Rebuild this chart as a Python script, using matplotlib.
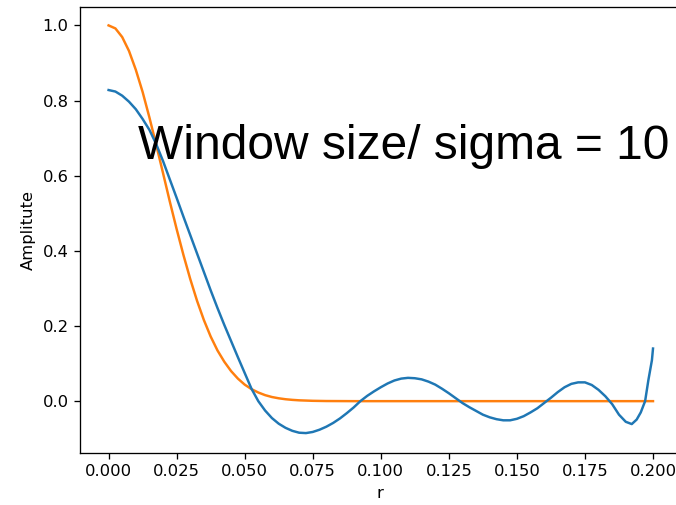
import matplotlib
matplotlib.use("Agg")
import matplotlib.pyplot as plt

# Blue curve (windowed response)
r_blue = [0.0000, 0.0025, 0.0050, 0.0075, 0.0100, 0.0125, 0.0150, 0.0175, 0.0200,
          0.0225, 0.0250, 0.0275, 0.0300, 0.0325, 0.0350, 0.0375, 0.0400, 0.0425,
          0.0450, 0.0475, 0.0500, 0.0525, 0.0550, 0.0575, 0.0600, 0.0625, 0.0650,
          0.0675, 0.0700, 0.0725, 0.0750, 0.0775, 0.0800, 0.0825, 0.0850, 0.0875,
          0.0900, 0.0925, 0.0950, 0.0975, 0.1000, 0.1025, 0.1050, 0.1075, 0.1100,
          0.1125, 0.1150, 0.1175, 0.1200, 0.1225, 0.1250, 0.1275, 0.1300, 0.1325,
          0.1350, 0.1375, 0.1400, 0.1425, 0.1450, 0.1475, 0.1500, 0.1525, 0.1550,
          0.1575, 0.1600, 0.1625, 0.1650, 0.1675, 0.1700, 0.1725, 0.1750, 0.1775,
          0.1800, 0.1825, 0.1850, 0.1875, 0.1900, 0.1922, 0.1940, 0.1955, 0.1971,
          0.1983, 0.1996, 0.2000]
a_blue = [0.828, 0.824, 0.813, 0.797, 0.777, 0.751, 0.722, 0.684, 0.639,
          0.590, 0.541, 0.491, 0.442, 0.393, 0.344, 0.295, 0.248, 0.203,
          0.160, 0.117, 0.075, 0.033, 0.000, -0.025, -0.045, -0.060, -0.071,
          -0.079, -0.084, -0.085, -0.082, -0.076, -0.068, -0.058, -0.046, -0.032,
          -0.017, 0.000, 0.014, 0.026, 0.037, 0.047, 0.055, 0.060, 0.062,
          0.061, 0.058, 0.052, 0.044, 0.033, 0.021, 0.008, -0.005, -0.016,
          -0.026, -0.036, -0.043, -0.048, -0.051, -0.051, -0.047, -0.040, -0.030,
          -0.019, -0.005, 0.009, 0.024, 0.037, 0.046, 0.050, 0.050, 0.043,
          0.030, 0.013, -0.008, -0.036, -0.055, -0.061, -0.049, -0.030, 0.000,
          0.056, 0.109, 0.140]

# Orange curve (Gaussian)
r_orange = [0.0000, 0.0025, 0.0050, 0.0075, 0.0100, 0.0125, 0.0150, 0.0175, 0.0200,
            0.0225, 0.0250, 0.0275, 0.0300, 0.0325, 0.0350, 0.0375, 0.0400, 0.0425,
            0.0450, 0.0475, 0.0500, 0.0525, 0.0550, 0.0575, 0.0600, 0.0625, 0.0650,
            0.0675, 0.0700, 0.0750, 0.0800, 0.0900, 0.1000, 0.1500, 0.2000]
a_orange = [1.000, 0.992, 0.969, 0.932, 0.882, 0.823, 0.755, 0.682, 0.607,
            0.531, 0.458, 0.389, 0.325, 0.267, 0.216, 0.172, 0.135, 0.105,
            0.080, 0.060, 0.044, 0.032, 0.023, 0.016, 0.011, 0.0076, 0.0051,
            0.0034, 0.0022, 0.0009, 0.0003, 0.0, 0.0, 0.0, 0.0]

x_ticks = [0.000, 0.025, 0.050, 0.075, 0.100, 0.125, 0.150, 0.175, 0.200]
y_ticks = [0.0, 0.2, 0.4, 0.6, 0.8, 1.0]
annotation = "Window size/ sigma = 10"

s = 1.18  # overall scale of the reference rendering
plt.rcParams.update({
    "font.size": 10 * s,
    "axes.linewidth": 0.8 * s,
    "xtick.major.size": 3.5 * s,
    "ytick.major.size": 3.5 * s,
    "xtick.major.width": 0.8 * s,
    "ytick.major.width": 0.8 * s,
    "xtick.major.pad": 3.5 * s,
    "ytick.major.pad": 3.5 * s,
    "axes.labelpad": 4.0 * s,
})

fig = plt.figure(figsize=(6.76, 5.05), dpi=100)
ax = fig.add_axes([80 / 676, 52 / 505, 600.5 / 676, 446 / 505])
ax.plot(r_blue, a_blue, color="C0", lw=1.5 * s, zorder=3)
ax.plot(r_orange, a_orange, color="C1", lw=1.5 * s, zorder=2)
ax.set_xlim(-0.0105, 0.2101)
ax.set_ylim(-0.138, 1.049)
ax.set_xticks(x_ticks)
ax.set_xticklabels([f"{v:.3f}" for v in x_ticks])
ax.set_yticks(y_ticks)
ax.set_yticklabels([f"{v:.1f}" for v in y_ticks])
ax.set_xlabel("r")
ax.set_ylabel("Amplitute")
ax.text(0.0108, 0.644, annotation, fontsize=34.5, family="Liberation Sans",
        color="black", zorder=4)
fig.savefig("out.png", dpi=100)
